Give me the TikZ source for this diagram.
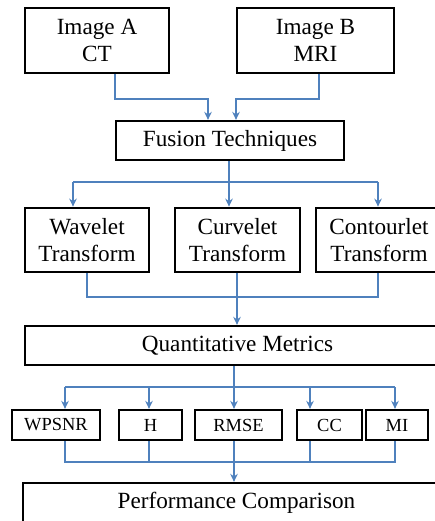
\documentclass[tikz,border=0pt]{standalone}
\usepackage{fontspec}
\setmainfont{Liberation Serif}
\newfontfamily\diagfont{Liberation Serif}
\usetikzlibrary{arrows.meta}
\definecolor{linkblue}{RGB}{79,129,189}

\begin{document}
\begin{tikzpicture}[x=0.02cm,y=-0.02cm,
    block/.style={draw,line width=1.3pt,align=center,inner sep=1pt,
      font=\diagfont\fontsize{13.2}{15.5}\selectfont},
    twoline/.style={block,minimum height=1.29cm},
    oneline/.style={block,minimum height=0.78cm},
    metric/.style={block,minimum height=0.6cm,font=\diagfont\fontsize{10.5}{12}\selectfont},
    link/.style={draw=linkblue,line width=1pt},
    >={Stealth[length=0.16cm,width=0.15cm]}]
        \useasboundingbox (0,0) rectangle (435,521);
        \clip (0,0) rectangle (435,521);
        % inputs
        \node[twoline,minimum width=2.88cm] (img_a) at (97,40.5) {Image A\\CT};
        \node[twoline,minimum width=3.14cm] (img_b) at (315.5,40.5) {Image B\\MRI};
        \node[oneline,minimum width=4.56cm] (fusion) at (230,140.5) {Fusion Techniques};
        % transforms
        \node[twoline,minimum width=2.48cm] (wave) at (87,240) {Wavelet\\Transform};
        \node[twoline,minimum width=2.50cm] (curve) at (237.5,240) {Curvelet\\Transform};
        \node[twoline,minimum width=2.52cm] (contour) at (379,240) {Contourlet\\Transform};
        \node[oneline,minimum width=8.5cm] (quant) at (237.5,345.5) {Quantitative Metrics};
        % metrics
        \node[metric,minimum width=1.76cm] (wpsnr) at (56,425) {WPSNR};
        \node[metric,minimum width=1.26cm] (ent) at (150.5,425) {H};
        \node[metric,minimum width=1.74cm] (rmse) at (238.5,425) {RMSE};
        \node[metric,minimum width=1.30cm] (cc) at (329.5,425) {CC};
        \node[metric,minimum width=1.24cm] (mi) at (397,425) {MI};
        \node[oneline,minimum width=8.54cm,minimum height=0.8cm] (perf) at (236.5,503) {Performance Comparison};

        % images into fusion
        \coordinate (a_bend) at (115,99);
        \coordinate (a_in) at (208,99);
        \coordinate (b_bend) at (319,99);
        \coordinate (b_in) at (236,99);
        \draw[link,->] (a_bend |- img_a.south) -- (a_bend) -- (a_in) -- (a_in |- fusion.north);
        \draw[link,->] (b_bend |- img_b.south) -- (b_bend) -- (b_in) -- (b_in |- fusion.north);

        % fusion out to transforms
        \coordinate (f_fork) at (229,182);
        \coordinate (w_in) at (73,182);
        \coordinate (c_in) at (378,182);
        \draw[link] (f_fork |- fusion.south) -- (f_fork);
        \draw[link] (w_in) -- (c_in);
        \draw[link,->] (w_in) -- (w_in |- wave.north);
        \draw[link,->] (f_fork) -- (f_fork |- curve.north);
        \draw[link,->] (c_in) -- (c_in |- contour.north);

        % transforms into metrics
        \coordinate (w_out) at (87,297);
        \coordinate (cv_out) at (237,297);
        \coordinate (ct_out) at (378,297);
        \draw[link] (w_out |- wave.south) -- (w_out) -- (ct_out) -- (ct_out |- contour.south);
        \draw[link] (cv_out |- curve.south) -- (cv_out);
        \draw[link,->] (cv_out) -- (cv_out |- quant.north);

        % quantitative metrics fan out
        \coordinate (q_fork) at (234,387);
        \coordinate (m_1) at (65,387);
        \coordinate (m_2) at (149,387);
        \coordinate (m_4) at (310,387);
        \coordinate (m_5) at (395,387);
        \draw[link] (q_fork |- quant.south) -- (q_fork);
        \draw[link] (m_1) -- (m_5);
        \draw[link,->] (m_1) -- (m_1 |- wpsnr.north);
        \draw[link,->] (m_2) -- (m_2 |- ent.north);
        \draw[link,->] (q_fork) -- (q_fork |- rmse.north);
        \draw[link,->] (m_4) -- (m_4 |- cc.north);
        \draw[link,->] (m_5) -- (m_5 |- mi.north);

        % metrics into comparison
        \coordinate (p_1) at (65,462);
        \coordinate (p_2) at (149,462);
        \coordinate (p_3) at (234,462);
        \coordinate (p_4) at (310,462);
        \coordinate (p_5) at (395,462);
        \draw[link] (p_1 |- wpsnr.south) -- (p_1) -- (p_5) -- (p_5 |- mi.south);
        \draw[link] (p_2 |- ent.south) -- (p_2);
        \draw[link] (p_3 |- rmse.south) -- (p_3);
        \draw[link] (p_4 |- cc.south) -- (p_4);
        \draw[link,->] (p_3) -- (p_3 |- perf.north);
\end{tikzpicture}
\end{document}
